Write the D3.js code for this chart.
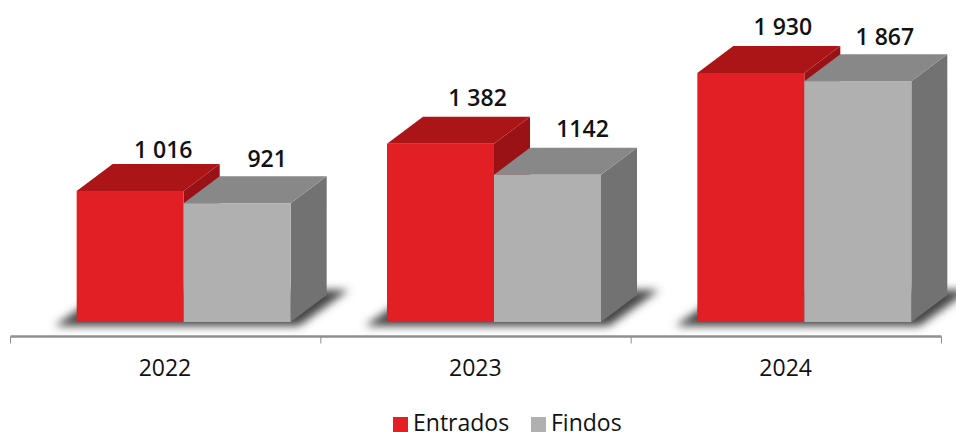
<!DOCTYPE html>
<html>
<head>
<meta charset="utf-8">
<script src="https://cdn.jsdelivr.net/npm/d3@7"></script>
<style>
body { margin: 0; background: #fff; }
text { font-family: "Open Sans", sans-serif; fill: #111; }
</style>
</head>
<body>
<div id="chart"></div>
<script>
var width = 956;
var height = 432;

var years = ["2022", "2023", "2024"];
var seriesNames = ["Entrados", "Findos"];
var entrados = [1016, 1382, 1930];
var findos = [921, 1142, 1867];
var entradosLabels = ["1 016", "1 382", "1 930"];
var findosLabels = ["921", "1142", "1 867"];

var baseline = 322;
var axisY = 336.5;
var barWidth = 107;
var depthX = 36;
var depthY = 27;

// label offsets from the middle of the bar front / bar top, the original is hand placed
var entradosNudge = [[33, -33], [37, -38], [32, -38]];
var findosNudge = [[30, -36], [35, -38], [27, -36]];

var colors = {
	Entrados: { front: "#e31f26", top: "#ab1517", side: "#9a1216" },
	Findos: { front: "#b0b0b0", top: "#888888", side: "#727272" }
};

var svg = d3.select("#chart").append("svg").attr("width", width).attr("height", height);

var x = d3.scaleBand().domain(years).range([10.5, 941.5]);
var y = d3.scaleLinear().domain([0, 1930]).range([baseline, 73]);

var defs = svg.append("defs");
defs.append("filter").attr("id", "soft")
	.attr("x", "-10%").attr("y", "-40%").attr("width", "120%").attr("height", "180%")
	.append("feGaussianBlur").attr("stdDeviation", 4);

/* Left edge of the front face of a bar */
function barLeft(year, seriesIndex) {
	return x(year) + x.bandwidth() / 2 + depthX / 2 - barWidth + seriesIndex * barWidth;
}

function poly(points) {
	return points.map(function(p) { return p.join(","); }).join(" ");
}

function drawShadow(year) {
	var left = barLeft(year, 0);
	var right = left + 2 * barWidth;
	svg.append("polygon")
		.attr("points", poly([
			[left - 22, baseline + 4],
			[right + 8, baseline + 4],
			[right + 58, baseline - 32],
			[left + 30, baseline - 32]
		]))
		.attr("fill", "#444444")
		.attr("filter", "url(#soft)");
}

/* Draw one box: side, top, then front */
function drawBox(year, value, seriesIndex, color) {
	var left = barLeft(year, seriesIndex);
	var right = left + barWidth;
	var top = y(value);
	var g = svg.append("g");
	g.append("polygon")
		.attr("points", poly([
			[right, top], [right + depthX, top - depthY],
			[right + depthX, baseline - depthY], [right, baseline]
		]))
		.attr("fill", color.side);
	g.append("polygon")
		.attr("points", poly([
			[left, top], [left + depthX, top - depthY],
			[right + depthX, top - depthY], [right, top]
		]))
		.attr("fill", color.top);
	g.append("rect")
		.attr("x", left)
		.attr("y", top)
		.attr("width", barWidth)
		.attr("height", baseline - top)
		.attr("fill", color.front);
}

function drawLabel(year, value, seriesIndex, label, nudge) {
	svg.append("text")
		.attr("x", barLeft(year, seriesIndex) + barWidth / 2 + nudge[0])
		.attr("y", y(value) + nudge[1])
		.attr("text-anchor", "middle")
		.attr("font-size", 23)
		.attr("font-weight", 600)
		.text(label);
}

years.forEach(function(year) { drawShadow(year); });

years.forEach(function(year, i) {
	// red first, the grey top has to sit over the red side face
	drawBox(year, entrados[i], 0, colors.Entrados);
	drawBox(year, findos[i], 1, colors.Findos);
	drawLabel(year, entrados[i], 0, entradosLabels[i], entradosNudge[i]);
	drawLabel(year, findos[i], 1, findosLabels[i], findosNudge[i]);
});

// axis with ticks between the categories
var axisLine = svg.append("g");
axisLine.append("line")
	.attr("x1", x.range()[0]).attr("x2", x.range()[1])
	.attr("y1", axisY).attr("y2", axisY)
	.attr("stroke", "#8f8f8f").attr("stroke-width", 2.5);
years.concat([null]).forEach(function(year) {
	var tx = year == null ? x.range()[1] : x(year);
	axisLine.append("line")
		.attr("x1", tx).attr("x2", tx)
		.attr("y1", axisY).attr("y2", axisY + 7)
		.attr("stroke", "#8f8f8f").attr("stroke-width", 1);
});

svg.selectAll(".year-label").data(years).enter().append("text")
	.attr("class", "year-label")
	.attr("x", function(d) { return x(d) + x.bandwidth() / 2 - 0.7; })
	.attr("y", 376)
	.attr("text-anchor", "middle")
	.attr("font-size", 23)
	.text(function(d) { return d; });

// legend
var legendX = [393, 531];
seriesNames.forEach(function(name, i) {
	svg.append("rect")
		.attr("x", legendX[i]).attr("y", 417)
		.attr("width", 15).attr("height", 15)
		.attr("fill", colors[name].front);
	svg.append("text")
		.attr("x", legendX[i] + 20).attr("y", 430.5)
		.attr("font-size", 23)
		.text(name);
});
</script>
</body>
</html>
